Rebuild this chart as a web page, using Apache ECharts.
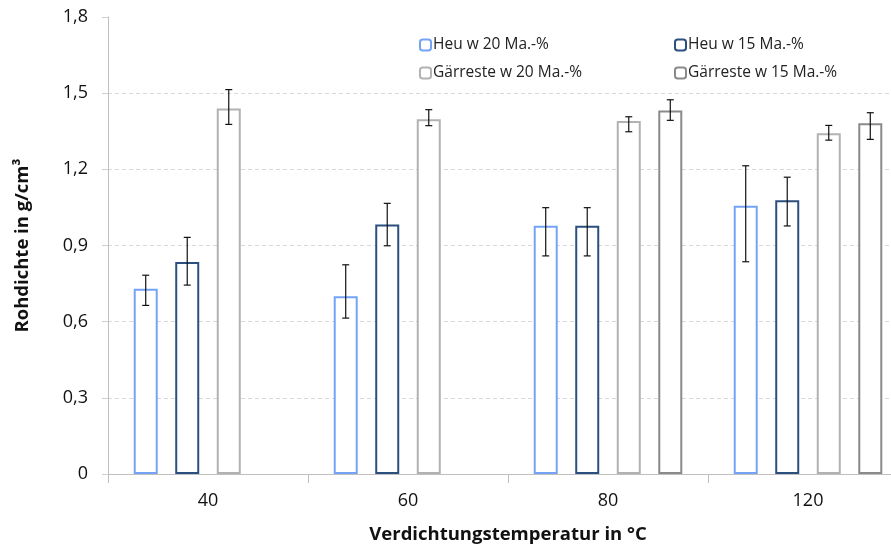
<!DOCTYPE html>
<html>
<head>
<meta charset="utf-8">
<script src="https://cdn.jsdelivr.net/npm/echarts@6/dist/echarts.min.js"></script>
<style>
  html, body { margin: 0; padding: 0; background: #fff; }
  #chart { width: 891px; height: 552px; }
</style>
</head>
<body>
<div id="chart"></div>
<script>
// Verdichtungstemperatur
var categories = ['40', '60', '80', '120'];
var seriesNames = ['Heu w 20 Ma.-%', 'Heu w 15 Ma.-%', 'Gärreste w 20 Ma.-%', 'Gärreste w 15 Ma.-%'];
var seriesColors = ['#74a3f5', '#2b4f7e', '#b2b2b2', '#8a8a8a'];

// Rohdichte (Mittelwert)
var heu20 = [0.73, 0.70, 0.978, 1.057];
var heu15 = [0.835, 0.983, 0.978, 1.078];
var gaer20 = [1.44, 1.397, 1.39, 1.342];
var gaer15 = [null, null, 1.432, 1.382];

// Fehlerbalken: untere / obere Grenze
var heu20Err = [[0.664, 0.783], [0.614, 0.824], [0.859, 1.049], [0.836, 1.214]];
var heu15Err = [[0.744, 0.932], [0.899, 1.066], [0.859, 1.049], [0.977, 1.169]];
var gaer20Err = [[1.377, 1.514], [1.372, 1.435], [1.348, 1.407], [1.315, 1.373]];
var gaer15Err = [null, null, [1.393, 1.474], [1.318, 1.423]];

var BAR_W = 24;
var BAR_GAP = 0.73;
var FONT = '"Open Sans", "Noto Sans", sans-serif';

var values = [heu20, heu15, gaer20, gaer15];
var errs = [heu20Err, heu15Err, gaer20Err, gaer15Err];

// Fehlerbalken-Daten: [Kategorie, Serie, unten, oben]
var errData = [];
errs.forEach(function (arr, s) {
  arr.forEach(function (e, c) {
    if (e) errData.push([c, s, e[0], e[1]]);
  });
});

function renderErr(params, api) {
  var c = api.value(0);
  var s = api.value(1);
  var lo = api.coord([c, api.value(2)]);
  var hi = api.coord([c, api.value(3)]);
  var step = BAR_W * (1 + BAR_GAP);
  var total = 4 * BAR_W + 3 * BAR_W * BAR_GAP;
  var x = lo[0] - total / 2 + BAR_W / 2 + s * step;
  var cap = 3.5;
  var style = { stroke: '#111', lineWidth: 1.2 };
  return {
    type: 'group',
    children: [
      { type: 'line', shape: { x1: x, y1: hi[1], x2: x, y2: lo[1] }, style: style },
      { type: 'line', shape: { x1: x - cap, y1: hi[1], x2: x + cap, y2: hi[1] }, style: style },
      { type: 'line', shape: { x1: x - cap, y1: lo[1], x2: x + cap, y2: lo[1] }, style: style }
    ]
  };
}

var series = values.map(function (v, i) {
  return {
    name: seriesNames[i],
    type: 'bar',
    data: v.map(function (d) { return d == null ? '-' : d; }),
    barWidth: BAR_W,
    barGap: (BAR_GAP * 100) + '%',
    itemStyle: { color: '#fff', borderColor: seriesColors[i], borderWidth: 2 },
    emphasis: { disabled: true },
    animation: false
  };
});

series.push({
  type: 'custom',
  renderItem: renderErr,
  data: errData,
  encode: { x: 0, y: [2, 3] },
  z: 5,
  silent: true,
  animation: false
});

var legendText = { fontSize: 15.5, color: '#222', fontFamily: FONT, padding: [0, 0, 0, -3] };

var chart = echarts.init(document.getElementById('chart'));
var option = {
  backgroundColor: '#fff',
  textStyle: { fontFamily: FONT },
  grid: { left: 108, width: 800, top: 17, height: 457, outerBoundsMode: 'none', containLabel: false },
  legend: [
    {
      orient: 'vertical',
      left: 414,
      top: 32,
      itemGap: 12,
      itemWidth: 11,
      itemHeight: 11,
      data: [seriesNames[0], seriesNames[2]],
      textStyle: legendText,
      selectedMode: false
    },
    {
      orient: 'vertical',
      left: 669,
      top: 32,
      itemGap: 12,
      itemWidth: 11,
      itemHeight: 11,
      data: [seriesNames[1], seriesNames[3]],
      textStyle: legendText,
      selectedMode: false
    }
  ],
  xAxis: {
    type: 'category',
    data: categories,
    name: 'Verdichtungstemperatur in °C',
    nameLocation: 'middle',
    nameGap: 51,
    nameTextStyle: { fontSize: 18.5, fontWeight: 'bold', color: '#111', fontFamily: FONT },
    axisLine: { lineStyle: { color: '#bfbfbf' } },
    axisTick: { show: true, length: 9, lineStyle: { color: '#bfbfbf' } },
    axisLabel: { fontSize: 18, color: '#111', margin: 18, fontFamily: FONT }
  },
  yAxis: {
    type: 'value',
    min: 0,
    max: 1.8,
    interval: 0.3,
    name: 'Rohdichte in g/cm³',
    nameLocation: 'middle',
    nameGap: 76,
    nameTextStyle: { fontSize: 18.5, fontWeight: 'bold', color: '#111', fontFamily: FONT },
    axisLine: { show: true, lineStyle: { color: '#bfbfbf' } },
    axisTick: { show: true, length: 6, lineStyle: { color: '#d0d0d0' } },
    splitLine: { show: true, showMaxLine: false, lineStyle: { color: '#d9d9d9', type: [4, 3] } },
    axisLabel: {
      fontSize: 18,
      color: '#111',
      margin: 20,
      fontFamily: FONT,
      formatter: function (v) {
        return v === 0 ? '0' : v.toFixed(1).replace('.', ',');
      }
    }
  },
  series: series
};
chart.setOption(option);
</script>
</body>
</html>
